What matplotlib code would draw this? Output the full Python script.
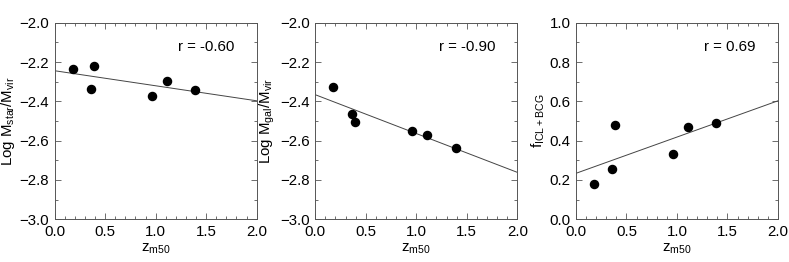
import matplotlib
matplotlib.use("Agg")
import matplotlib.pyplot as plt
from matplotlib.ticker import MultipleLocator

z_m50 = [0.18, 0.36, 0.39, 0.96, 1.11, 1.39]
log_mstar = [-2.237, -2.336, -2.222, -2.375, -2.295, -2.341]
log_mgal = [-2.325, -2.464, -2.507, -2.553, -2.571, -2.636]
f_icl = [0.178, 0.254, 0.478, 0.334, 0.468, 0.492]

fit_x = [0.0, 2.0]
fit_mstar = [-2.244, -2.397]
fit_mgal = [-2.366, -2.761]
fit_icl = [0.234, 0.603]

r_labels = ["r = -0.60", "r = -0.90", "r = 0.69"]
ylabels = [r"Log M$_{\rm star}$/M$_{\rm vir}$", r"Log M$_{\rm gal}$/M$_{\rm vir}$", r"f$_{\rm ICL+BCG}$"]
xlabel = r"z$_{\rm m50}$"

plt.rcParams['font.family'] = ['Liberation Sans', 'DejaVu Sans']
plt.rcParams['mathtext.fontset'] = 'custom'
plt.rcParams['mathtext.rm'] = 'Liberation Sans'

fig = plt.figure(figsize=(7.89, 2.62), dpi=100)
lefts = [0.0693, 0.3996, 0.730]
datasets = [(log_mstar, fit_mstar, (-3.0, -2.0)),
            (log_mgal, fit_mgal, (-3.0, -2.0)),
            (f_icl, fit_icl, (0.0, 1.0))]
edge = '#555555'
fs = 10.8
for i, (ys, fit, ylim) in enumerate(datasets):
    ax = fig.add_axes([lefts[i], 0.163, 0.256, 0.750])
    ax.plot(fit_x, fit, color='#444444', lw=0.7)
    ax.scatter(z_m50, ys, s=34, color='black', zorder=3, clip_on=False)
    ax.set_xlim(0, 2.0)
    ax.set_ylim(*ylim)
    ax.xaxis.set_major_locator(MultipleLocator(0.5))
    ax.xaxis.set_minor_locator(MultipleLocator(0.1))
    ax.yaxis.set_major_locator(MultipleLocator(0.2))
    ax.yaxis.set_minor_locator(MultipleLocator(0.1))
    ax.tick_params(which='both', direction='in', top=True, right=True,
                   color=edge, width=0.6, labelsize=fs)
    ax.tick_params(which='major', length=4, pad=4)
    ax.tick_params(which='minor', length=2)
    for s in ax.spines.values():
        s.set_color(edge)
        s.set_linewidth(0.7)
    ax.set_xlabel(xlabel, fontsize=fs, labelpad=2)
    ax.set_ylabel(ylabels[i], fontsize=fs, labelpad=2)
    ax.text(0.89, 0.878, r_labels[i], transform=ax.transAxes,
            ha='right', va='center', fontsize=fs)

fig.savefig("out.png", dpi=100)
